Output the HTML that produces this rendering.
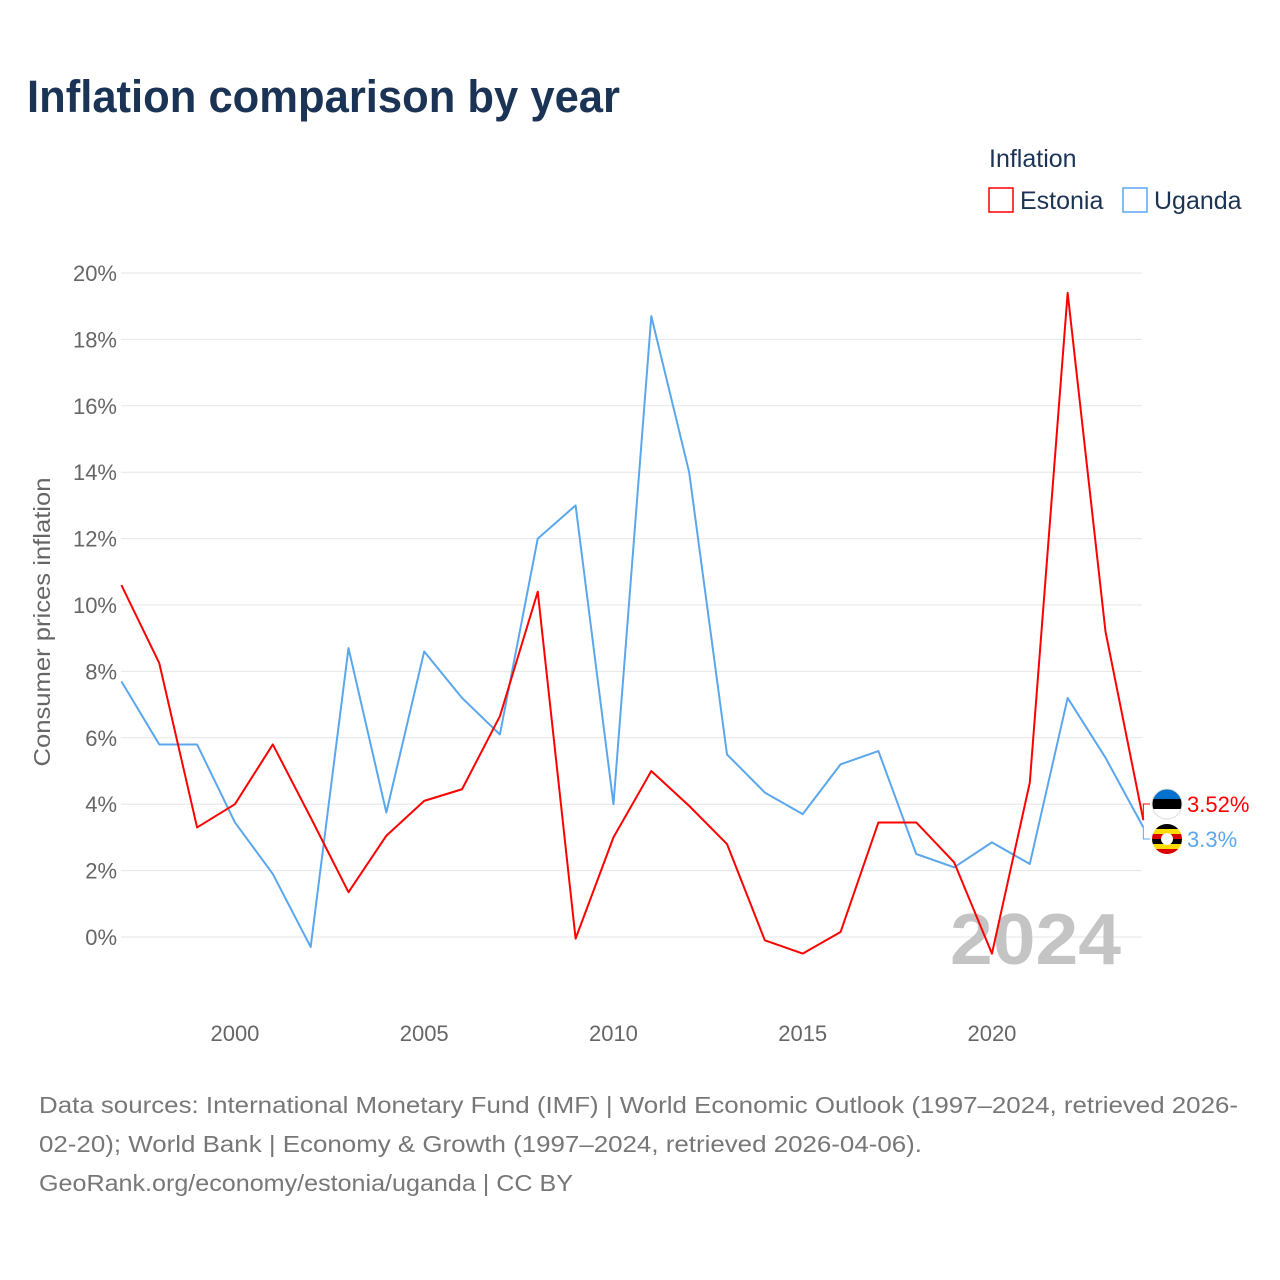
<!DOCTYPE html>
<html><head><meta charset="utf-8">
<style>
body{margin:0;background:#fff;font-family:"Liberation Sans",sans-serif;}
#wrap{position:relative;width:1280px;height:1280px;overflow:hidden;}
</style></head>
<body>
<div id="wrap">
<svg id="chart" width="1280" height="1280"></svg>
</div>
<script>
const years=[1997,1998,1999,2000,2001,2002,2003,2004,2005,2006,2007,2008,2009,2010,2011,2012,2013,2014,2015,2016,2017,2018,2019,2020,2021,2022,2023,2024];
const estonia=[10.6,8.25,3.3,4.0,5.8,3.6,1.35,3.05,4.1,4.45,6.65,10.4,-0.05,3.0,5.0,3.95,2.8,-0.1,-0.5,0.15,3.45,3.45,2.25,-0.5,4.65,19.4,9.2,3.52];
const uganda=[7.7,5.8,5.8,3.45,1.9,-0.3,8.7,3.75,8.6,7.2,6.1,12.0,13.0,4.0,18.7,14.0,5.5,4.35,3.7,5.2,5.6,2.5,2.1,2.85,2.2,7.2,5.4,3.3];
const yTicks=[0,2,4,6,8,10,12,14,16,18,20];
const xTicks=[2000,2005,2010,2015,2020];
const NS="http://www.w3.org/2000/svg";
const svg=document.getElementById('chart');
const X=y=>121.4+(y-1997)*37.85;
const Y=v=>937-v*33.2;
function el(tag,attrs,text){const e=document.createElementNS(NS,tag);for(const k in attrs)e.setAttribute(k,attrs[k]);if(text!==undefined)e.textContent=text;svg.appendChild(e);return e;}
let t;
t=el('text',{x:27,y:112,'font-size':45,'font-weight':'bold',fill:'#1b3354',textLength:593,lengthAdjust:'spacingAndGlyphs'},'Inflation comparison by year');

t=el('text',{x:989,y:167,'font-size':25,fill:'#1b3354'},'Inflation');

t=el('rect',{x:989,y:188,width:24,height:24,fill:'none',stroke:'#ff0000','stroke-width':1.5});

t=el('text',{x:1020,y:209,'font-size':25,fill:'#1b3354'},'Estonia');

t=el('rect',{x:1123,y:188,width:24,height:24,fill:'none',stroke:'#5ba7ee','stroke-width':1.5});

t=el('text',{x:1154,y:209,'font-size':25,fill:'#1b3354'},'Uganda');

yTicks.forEach(v=>{
 const g=el('line',{x1:121,x2:1142,y1:Y(v),y2:Y(v),stroke:'#e6e6e6','stroke-width':1});
 
 const l=el('text',{x:117,y:Y(v)+8,'font-size':22,fill:'#666','text-anchor':'end'},v+'%');
 
});
xTicks.forEach(v=>{
 const l=el('text',{x:X(v),y:1041,'font-size':22,fill:'#666','text-anchor':'middle'},String(v));
 
});
t=el('text',{x:0,y:0,'font-size':23,fill:'#666','text-anchor':'middle',textLength:289,lengthAdjust:'spacingAndGlyphs',transform:'translate(50,622) rotate(-90)'},'Consumer prices inflation');

t=el('text',{x:950,y:964,'font-size':72,'font-weight':'bold',fill:'#c4c4c4',textLength:171,lengthAdjust:'spacingAndGlyphs'},'2024');

function line(vals,color,name){
 const p=el('polyline',{points:vals.map((v,i)=>X(years[i])+','+Y(v)).join(' '),fill:'none',stroke:color,'stroke-width':2,'stroke-linejoin':'round'});
 
}
line(uganda,'#5ba7ee','uganda-line');
line(estonia,'#ff0000','estonia-line');
const eLast=estonia[estonia.length-1],uLast=uganda[uganda.length-1];
const ey=804,uy=839;
t=el('polyline',{points:`${X(2024)},${Y(eLast)} ${X(2024)},${ey} 1150,${ey}`,fill:'none',stroke:'#ff0000','stroke-width':1});

t=el('polyline',{points:`${X(2024)},${Y(uLast)} ${X(2024)},${uy} 1150,${uy}`,fill:'none',stroke:'#5ba7ee','stroke-width':1});

const fe=document.createElementNS(NS,'g');svg.appendChild(fe);

fe.innerHTML=`<clipPath id="ce"><circle cx="1167" cy="${ey}" r="15"/></clipPath><g clip-path="url(#ce)"><rect x="1150" y="${ey-15}" width="34" height="10" fill="#0072ce"/><rect x="1150" y="${ey-5}" width="34" height="10" fill="#000"/><rect x="1150" y="${ey+5}" width="34" height="10" fill="#fff"/></g><circle cx="1167" cy="${ey}" r="15" fill="none" stroke="#ddd" stroke-width="1"/>`;
const fu=document.createElementNS(NS,'g');svg.appendChild(fu);

fu.innerHTML=`<clipPath id="cu"><circle cx="1167" cy="${uy}" r="15"/></clipPath><g clip-path="url(#cu)"><rect x="1150" y="${uy-15}" width="34" height="5" fill="#000"/><rect x="1150" y="${uy-10}" width="34" height="5" fill="#fcdc04"/><rect x="1150" y="${uy-5}" width="34" height="5" fill="#d90000"/><rect x="1150" y="${uy}" width="34" height="5" fill="#000"/><rect x="1150" y="${uy+5}" width="34" height="5" fill="#fcdc04"/><rect x="1150" y="${uy+10}" width="34" height="5" fill="#d90000"/><circle cx="1167" cy="${uy}" r="6" fill="#fff"/></g>`;
t=el('text',{x:1187,y:ey+8,'font-size':22,fill:'#ff0000'},eLast+'%');

t=el('text',{x:1187,y:uy+8,'font-size':22,fill:'#5ba7ee'},uLast+'%');

const src=['Data sources: International Monetary Fund (IMF) | World Economic Outlook (1997–2024, retrieved 2026-','02-20); World Bank | Economy & Growth (1997–2024, retrieved 2026-04-06).','GeoRank.org/economy/estonia/uganda | CC BY'];
const srcLen=[1199,883,534];
src.forEach((s,i)=>{const l=el('text',{x:39,y:1113+i*39,'font-size':23.5,fill:'#777',textLength:srcLen[i],lengthAdjust:'spacingAndGlyphs'},s);
 });
</script>
</body></html>
